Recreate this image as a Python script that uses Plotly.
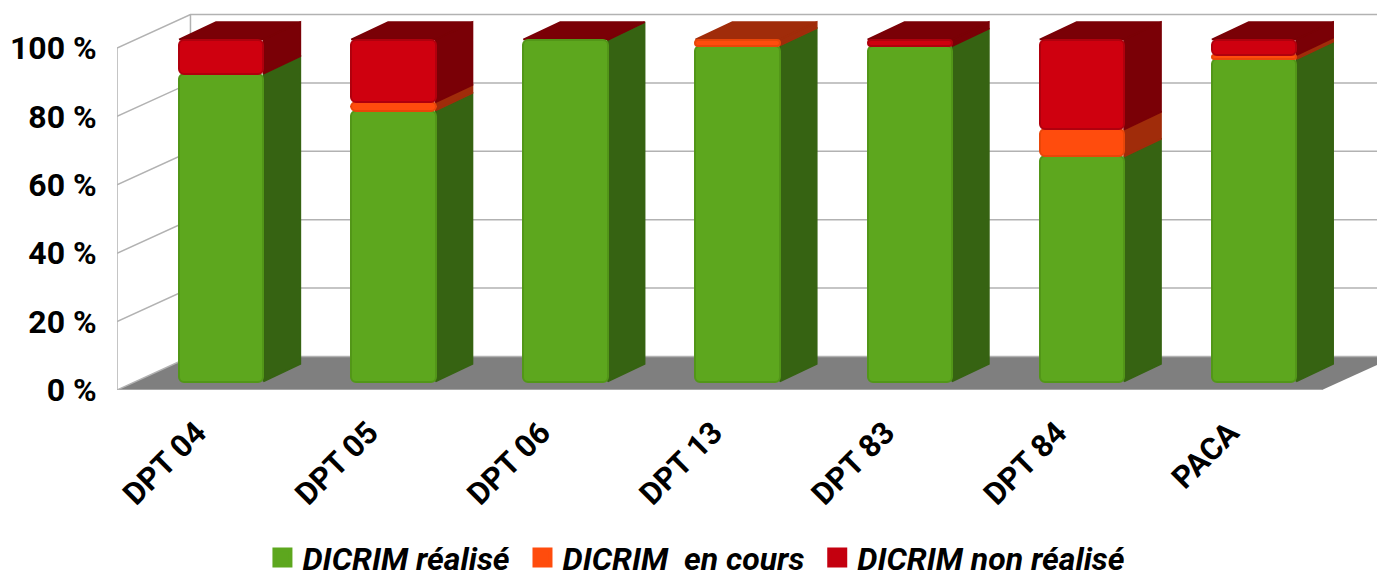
import plotly.graph_objects as go

categories = ["DPT 04", "DPT 05", "DPT 06", "DPT 13", "DPT 83", "DPT 84", "PACA"]
realise = [90.0, 79.2, 99.8, 98.2, 98.0, 65.8, 94.2]
en_cours = [0.0, 2.4, 0.0, 1.8, 0.0, 7.9, 1.2]
non_realise = [10.0, 18.4, 0.2, 0.0, 2.0, 26.3, 4.6]
y_ticks = [0, 20, 40, 60, 80, 100]
y_labels = ["0 %", "20 %", "40 %", "60 %", "80 %", "100 %"]

series = [
    ("DICRIM réalisé\u00a0", realise, "#5da71e", "#366312", "#529618"),
    ("DICRIM\u00a0\u00a0en cours\u00a0", en_cours, "#ff4c0d", "#a02c0a", "#e84609"),
    ("DICRIM non réalisé", non_realise, "#cf000f", "#7a0006", "#b0000d"),
]
legend_colors = ["#5da71e", "#ff4c0d", "#c4000f"]

# the page body has an 8 px margin, so the figure is 8 px smaller and coordinates are shifted
OFF = 8
FIG_W, FIG_H = 1385 - OFF, 580 - OFF
PX_X, PX_Y = 172.2, 3.42
L, R, T, B = 116.5 - OFF, 1385 - OFF, 10 - OFF, 390 - OFF
x_range = [0, (R - L) / PX_X]
y_range = [0, (B - T) / PX_Y]
# pseudo-3D projection
wall_dx, wall_dy = 73.5 / PX_X, 33.5 / PX_Y
bar_dx, bar_dy = 37 / PX_X, 17.5 / PX_Y
front_dx = (178.5 - 116.5) / PX_X
front_dy = 8.5 / PX_Y
bar_w = 84.5 / PX_X
min_front = 0.5  # segments thinner than this show only their depth faces
n = len(categories)

fig = go.Figure()

# floor and walls
fig.add_trace(go.Scatter(
    x=[0, wall_dx, n + wall_dx, n, 0], y=[0, wall_dy, wall_dy, 0, 0],
    mode="lines", fill="toself", fillcolor="#7f7f7f", line=dict(color="#7f7f7f", width=0),
    showlegend=False, hoverinfo="skip", cliponaxis=False, zorder=0))
gx, gy = [], []
for v in y_ticks:
    gx += [0, wall_dx, n + wall_dx + 1, None]
    gy += [v, v + wall_dy, v + wall_dy, None]
gx += [0, 0, None, wall_dx, wall_dx, None, 0, n]
gy += [0, 100, None, wall_dy, 100 + wall_dy, None, 0, 0]
fig.add_trace(go.Scatter(
    x=gx, y=gy, mode="lines", line=dict(color="#b2b2b2", width=1.5),
    showlegend=False, hoverinfo="skip", cliponaxis=False, zorder=0))

# side and top faces, and front bars
bottoms = [0.0] * n
for idx, (name, vals, front, depth, edge) in enumerate(series):
    fx, fy = [], []
    for i, v in enumerate(vals):
        if v <= 0:
            continue
        x0 = i + front_dx
        x1 = x0 + bar_w
        y0 = bottoms[i] + front_dy
        y1 = y0 + v
        fx += [x1, x1 + bar_dx, x1 + bar_dx, x1, x1, None]
        fy += [y0, y0 + bar_dy, y1 + bar_dy, y1, y0, None]
        above = sum(s[1][i] for s in series[idx + 1:])
        if above == 0:
            fx += [x0, x0 + bar_dx, x1 + bar_dx, x1, x0, None]
            fy += [y1, y1 + bar_dy, y1 + bar_dy, y1, y1, None]
    fig.add_trace(go.Scatter(
        x=fx, y=fy, mode="lines", fill="toself", fillcolor=depth,
        line=dict(color=depth, width=1.5), showlegend=False, hoverinfo="skip", zorder=1))
    fig.add_trace(go.Bar(
        x=[i + front_dx + bar_w / 2 for i in range(n)],
        y=[v if v >= min_front else None for v in vals],
        base=[b + front_dy for b in bottoms],
        width=bar_w,
        marker=dict(color=front, line=dict(color=edge, width=2)),
        showlegend=False, name=name.strip("\u00a0"), zorder=2))
    bottoms = [b + v for b, v in zip(bottoms, vals)]

# legend entries
for (name, _, _, _, _), col in zip(series, legend_colors):
    fig.add_trace(go.Scatter(
        x=[None], y=[None], mode="markers", name=name,
        marker=dict(symbol="square", size=16, color=col, line=dict(color=col, width=4))))

font = dict(family="Roboto", color="#000000", weight="bold")
fig.update_layout(
    width=FIG_W, height=FIG_H,
    margin=dict(l=L, r=FIG_W - R, t=T, b=FIG_H - B, pad=0, autoexpand=False),
    paper_bgcolor="white", plot_bgcolor="white",
    barmode="overlay", barcornerradius=5, bargap=0,
    showlegend=True,
    legend=dict(orientation="h", x=(262 - 116.5) / (R - L), y=-0.441, xanchor="left", yanchor="middle",
                font=dict(family="Roboto", size=32, color="#000000", weight="bold", style="italic"),
                itemwidth=30, tracegroupgap=0, bgcolor="rgba(0,0,0,0)"),
    xaxis=dict(range=x_range, tickmode="array", tickvals=[i + 0.465 for i in range(n)], ticktext=categories,
               tickangle=-45, ticks="outside", ticklen=11, tickcolor="rgba(0,0,0,0)",
               showgrid=False, zeroline=False, showline=False, tickfont=dict(size=31, **font)),
    yaxis=dict(range=y_range, tickmode="array", tickvals=y_ticks, ticktext=y_labels,
               ticks="outside", ticklen=13, tickcolor="rgba(0,0,0,0)",
               showgrid=False, zeroline=False, showline=False, tickfont=dict(size=32, **font)),
)
fig.write_html("out.html")
